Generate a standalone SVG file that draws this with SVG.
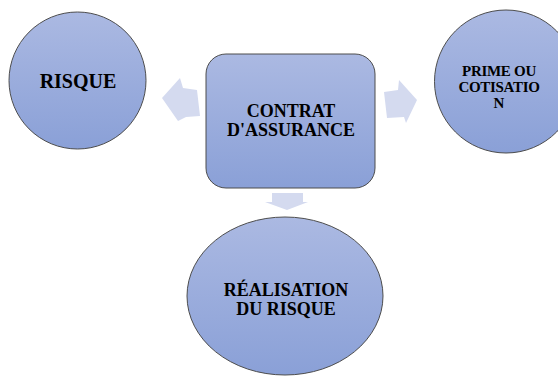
<svg xmlns="http://www.w3.org/2000/svg" width="558" height="376" viewBox="0 0 558 376">
<defs>
<linearGradient id="g" x1="0" y1="0" x2="0" y2="1">
<stop offset="0" stop-color="#abb9e2"/>
<stop offset="1" stop-color="#8aa0d7"/>
</linearGradient>
<style>
.n{fill:url(#g);stroke:#4d4d4d;stroke-width:1}
.a{fill:#d4daef}
.t{font-family:"Liberation Serif","Times New Roman",serif;font-weight:bold;fill:#000;text-anchor:middle}
</style>
</defs>
<rect width="558" height="376" fill="#fff"/>
<g id="connectors">
<polygon class="a" points="162,98 180,78 183,88 197,90 200,116 186,117 178,121"/>
<polygon class="a" points="384,92 398,90 399,80 417,100 406,123 404,117 387,118"/>
<polygon class="a" points="272,193 303,193 303,202 308,202 287,210 265,202 272,202"/>
</g>
<g id="risque">
<circle class="n" cx="77.5" cy="80.5" r="68.5"/>
<text class="t" x="78" y="88" font-size="20">RISQUE</text>
</g>
<g id="contrat">
<rect class="n" x="206" y="54" width="169" height="134" rx="20"/>
<text class="t" x="291" y="117" font-size="18">CONTRAT</text>
<text class="t" x="291" y="136" font-size="18">D'ASSURANCE</text>
</g>
<g id="prime">
<circle class="n" cx="506" cy="81.5" r="71.5"/>
<text class="t" x="499" y="76" font-size="15" letter-spacing="-0.3">PRIME OU</text>
<text class="t" x="499" y="92" font-size="15" letter-spacing="-0.3">COTISATIO</text>
<text class="t" x="499" y="108" font-size="15">N</text>
</g>
<g id="realisation">
<ellipse class="n" cx="285" cy="296" rx="98" ry="79"/>
<text class="t" x="286" y="296" font-size="18">RÉALISATION</text>
<text class="t" x="286" y="315" font-size="18">DU RISQUE</text>
</g>
</svg>
